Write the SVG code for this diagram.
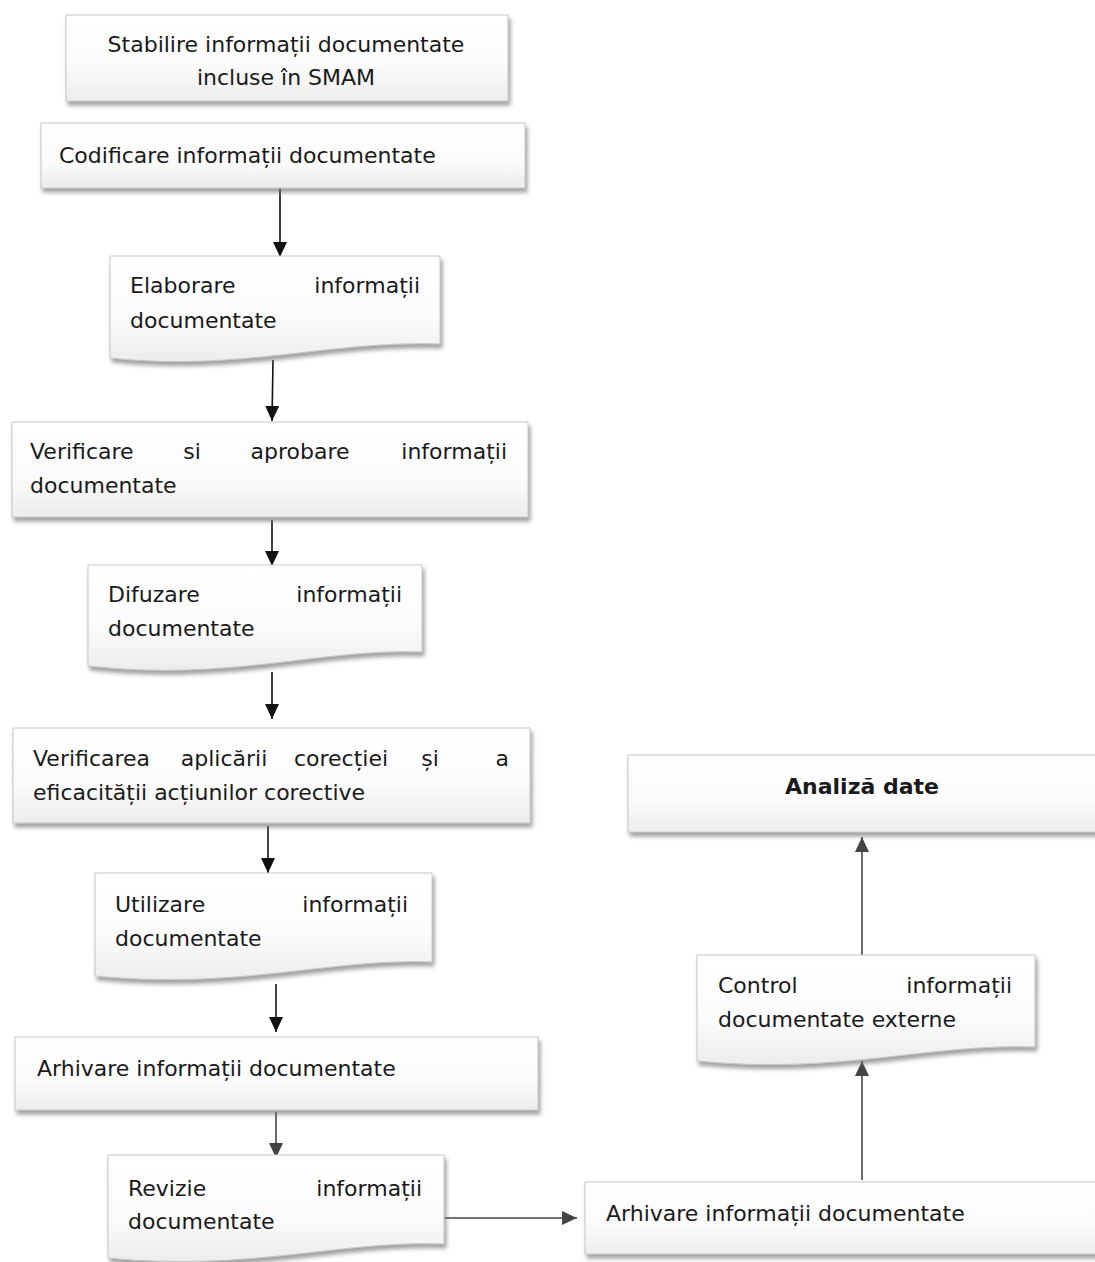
<svg xmlns="http://www.w3.org/2000/svg" width="1095" height="1262" viewBox="0 0 1095 1262">
<style>
.box{fill:url(#g);stroke:#c8c8c8;stroke-width:1;filter:url(#sh)}
.t{font-family:"DejaVu Sans","Noto Sans",sans-serif;font-size:22px;fill:#1a1a1a}
.e{text-anchor:end}
.m{text-anchor:middle}
.b{font-weight:bold}
.c{stroke:#111;stroke-width:1.6;fill:none;marker-end:url(#ah)}
.cg{stroke:#444;stroke-width:1.6;fill:none;marker-end:url(#ahg)}
</style>
<defs>
<linearGradient id="g" x1="0" y1="0" x2="0" y2="1">
<stop offset="0" stop-color="#ffffff"/>
<stop offset="0.6" stop-color="#fbfbfb"/>
<stop offset="1" stop-color="#ececec"/>
</linearGradient>
<filter id="sh" x="-5%" y="-10%" width="112%" height="130%">
<feDropShadow dx="2" dy="4" stdDeviation="2" flood-color="#777" flood-opacity="0.7"/>
</filter>
<marker id="ah" markerWidth="16" markerHeight="14" refX="15" refY="7" orient="auto" markerUnits="userSpaceOnUse">
<path d="M0,0 L15,7 L0,14 Z" fill="#111"/>
</marker>
<marker id="ahg" markerWidth="16" markerHeight="14" refX="15" refY="7" orient="auto" markerUnits="userSpaceOnUse">
<path d="M0,0 L15,7 L0,14 Z" fill="#444"/>
</marker>
</defs>
<rect width="1095" height="1262" fill="#ffffff"/>

<g id="connectors">
<line class="c" x1="280" y1="188" x2="280" y2="257"/>
<line class="c" x1="273" y1="360" x2="272" y2="421"/>
<line class="c" x1="272" y1="520" x2="272" y2="566"/>
<line class="c" x1="272" y1="672" x2="272" y2="719"/>
<line class="c" x1="268" y1="826" x2="268" y2="873"/>
<line class="c" x1="276" y1="984" x2="276" y2="1032"/>
<line class="cg" x1="276" y1="1112" x2="276" y2="1158"/>
<line class="cg" x1="444" y1="1218" x2="577" y2="1218"/>
<line class="cg" x1="862" y1="1180" x2="862" y2="1061"/>
<line class="cg" x1="862" y1="966" x2="862" y2="837"/>
</g>

<g id="n1">
<rect class="box" x="66" y="15" width="442" height="86"/>
<text class="t m" x="286" y="52">Stabilire informații documentate</text>
<text class="t m" x="286" y="85">incluse în SMAM</text>
</g>

<g id="n2">
<rect class="box" x="41" y="123" width="484" height="65"/>
<text class="t" x="59" y="163">Codificare informații documentate</text>
</g>

<g id="n3">
<path class="box" d="M110,256 H440 V344 C330,340 240,372 110,358 Z"/>
<text class="t" x="130" y="293">Elaborare</text>
<text class="t e" x="420" y="293">informații</text>
<text class="t" x="130" y="328">documentate</text>
</g>

<g id="n4">
<rect class="box" x="12" y="422" width="516" height="95"/>
<text class="t" x="30" y="459">Verificare</text>
<text class="t m" x="192" y="459">si</text>
<text class="t m" x="300" y="459">aprobare</text>
<text class="t e" x="507" y="459">informații</text>
<text class="t" x="30" y="493">documentate</text>
</g>

<g id="n5">
<path class="box" d="M88,565 H422 V652 C320,648 230,682 88,666 Z"/>
<text class="t" x="108" y="602">Difuzare</text>
<text class="t e" x="402" y="602">informații</text>
<text class="t" x="108" y="636">documentate</text>
</g>

<g id="n6">
<rect class="box" x="13" y="728" width="517" height="95"/>
<text class="t" x="33" y="766">Verificarea</text>
<text class="t m" x="224" y="766">aplicării</text>
<text class="t m" x="341" y="766">corecției</text>
<text class="t m" x="430" y="766">și</text>
<text class="t e" x="509" y="766">a</text>
<text class="t" x="33" y="800">eficacității acțiunilor corective</text>
</g>

<g id="n7">
<path class="box" d="M95,873 H432 V962 C330,958 240,990 95,976 Z"/>
<text class="t" x="115" y="912">Utilizare</text>
<text class="t e" x="408" y="912">informații</text>
<text class="t" x="115" y="946">documentate</text>
</g>

<g id="n8">
<rect class="box" x="15" y="1037" width="523" height="73"/>
<text class="t" x="37" y="1076">Arhivare informații documentate</text>
</g>

<g id="n9">
<path class="box" d="M108,1155 H444 V1244 C340,1240 250,1272 108,1258 Z"/>
<text class="t" x="128" y="1196">Revizie</text>
<text class="t e" x="422" y="1196">informații</text>
<text class="t" x="128" y="1229">documentate</text>
</g>

<g id="n10">
<rect class="box" x="585" y="1182" width="520" height="72"/>
<text class="t" x="606" y="1221">Arhivare informații documentate</text>
</g>

<g id="n11">
<path class="box" d="M697,955 H1035 V1047 C930,1043 840,1075 697,1061 Z"/>
<text class="t" x="718" y="993">Control</text>
<text class="t e" x="1012" y="993">informații</text>
<text class="t" x="718" y="1027">documentate externe</text>
</g>

<g id="n12">
<rect class="box" x="628" y="755" width="477" height="77"/>
<text class="t m b" x="862" y="794">Analiză date</text>
</g>
</svg>
